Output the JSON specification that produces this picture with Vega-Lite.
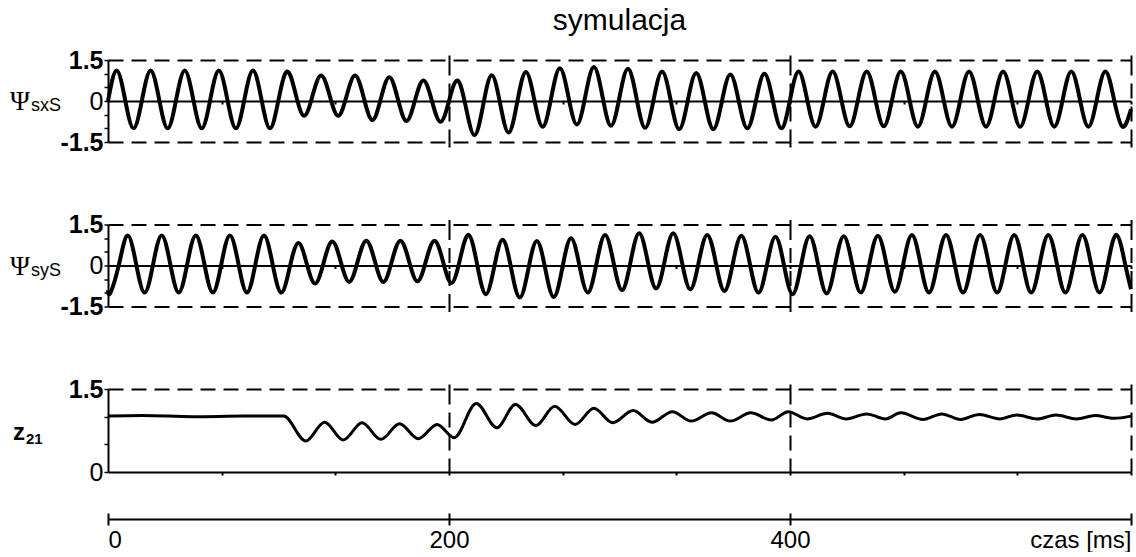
{
"$schema": "https://vega.github.io/schema/vega-lite/v6.json",
"background": "white",
"padding": {"left": 10, "top": 6, "right": 0, "bottom": 0},
"config": {"view": {"stroke": null}, "font": "Liberation Sans", "axis": {"labelFont": "Liberation Sans", "labelColor": "black", "domainColor": "black", "tickColor": "black", "gridColor": "black", "labelOverlap": false}},
"datasets": {
"sx": [
{"t":0,"v":0.0},{"t":5,"v":1.12},{"t":10,"v":0.06},{"t":15,"v":-1.0},{"t":20,"v":0.06},{"t":25,"v":1.12},{"t":30,"v":0.06},{"t":35,"v":-1.0},{"t":40,"v":0.06},{"t":45,"v":1.12},{"t":50,"v":0.06},{"t":55,"v":-1.0},{"t":60,"v":0.06},{"t":65,"v":1.12},{"t":70,"v":0.06},{"t":75,"v":-1.0},{"t":80,"v":0.06},{"t":85,"v":1.12},{"t":90,"v":0.06},{"t":95,"v":-1.0},
{"t":100,"v":0.04},{"t":105,"v":1.08},{"t":110,"v":0.27},{"t":115,"v":-0.54},{"t":120,"v":0.2},{"t":125,"v":0.93},{"t":130,"v":0.2},{"t":135,"v":-0.54},{"t":140,"v":0.2},{"t":145,"v":0.93},{"t":150,"v":0.12},{"t":155,"v":-0.7},{"t":160,"v":0.08},{"t":165,"v":0.87},{"t":170,"v":0.07},{"t":175,"v":-0.73},{"t":180,"v":0.01},{"t":185,"v":0.75},{"t":190,"v":0.0},{"t":195,"v":-0.76},
{"t":200,"v":0.0},{"t":205,"v":0.75},{"t":210,"v":-0.25},{"t":215,"v":-1.25},{"t":220,"v":-0.16},{"t":225,"v":0.94},{"t":230,"v":-0.1},{"t":235,"v":-1.15},{"t":240,"v":-0.05},{"t":245,"v":1.06},{"t":250,"v":0.06},{"t":255,"v":-0.94},{"t":260,"v":0.13},{"t":265,"v":1.2},{"t":270,"v":0.17},{"t":275,"v":-0.86},{"t":280,"v":0.19},{"t":285,"v":1.24},{"t":290,"v":0.17},{"t":295,"v":-0.91},
{"t":300,"v":0.14},{"t":305,"v":1.18},{"t":310,"v":0.1},{"t":315,"v":-0.98},{"t":320,"v":0.05},{"t":325,"v":1.08},{"t":330,"v":0.03},{"t":335,"v":-1.03},{"t":340,"v":0.0},{"t":345,"v":1.02},{"t":350,"v":0.0},{"t":355,"v":-1.03},{"t":360,"v":-0.03},{"t":365,"v":0.97},{"t":370,"v":-0.02},{"t":375,"v":-1.0},{"t":380,"v":0.0},{"t":385,"v":1.0},{"t":390,"v":0.0},{"t":395,"v":-1.0},
{"t":400,"v":0.04},{"t":405,"v":1.08},{"t":410,"v":0.07},{"t":415,"v":-0.94},{"t":420,"v":0.07},{"t":425,"v":1.08},{"t":430,"v":0.08},{"t":435,"v":-0.92},{"t":440,"v":0.08},{"t":445,"v":1.08},{"t":450,"v":0.08},{"t":455,"v":-0.92},{"t":460,"v":0.08},{"t":465,"v":1.08},{"t":470,"v":0.07},{"t":475,"v":-0.94},{"t":480,"v":0.07},{"t":485,"v":1.08},{"t":490,"v":0.07},{"t":495,"v":-0.94},
{"t":500,"v":0.07},{"t":505,"v":1.08},{"t":510,"v":0.07},{"t":515,"v":-0.94},{"t":520,"v":0.07},{"t":525,"v":1.08},{"t":530,"v":0.07},{"t":535,"v":-0.94},{"t":540,"v":0.07},{"t":545,"v":1.08},{"t":550,"v":0.07},{"t":555,"v":-0.94},{"t":560,"v":0.07},{"t":565,"v":1.08},{"t":570,"v":0.07},{"t":575,"v":-0.94},{"t":580,"v":0.07},{"t":585,"v":1.08},{"t":590,"v":0.07},{"t":595,"v":-0.94},{"t":600,"v":-0.3}
],
"sy": [
{"t":0,"v":-0.9},{"t":1.5,"v":-0.99},{"t":6.5,"v":0.06},{"t":11.5,"v":1.1},{"t":16.5,"v":0.06},{"t":21.5,"v":-0.99},{"t":26.5,"v":0.06},{"t":31.5,"v":1.1},{"t":36.5,"v":0.06},{"t":41.5,"v":-0.99},{"t":46.5,"v":0.06},{"t":51.5,"v":1.1},{"t":56.5,"v":0.06},{"t":61.5,"v":-0.99},{"t":66.5,"v":0.06},{"t":71.5,"v":1.1},{"t":76.5,"v":0.06},{"t":81.5,"v":-0.99},{"t":86.5,"v":0.06},{"t":91.5,"v":1.1},{"t":96.5,"v":0.06},
{"t":101.5,"v":-0.99},{"t":106.5,"v":-0.09},{"t":111.5,"v":0.82},{"t":116.5,"v":0.08},{"t":121.5,"v":-0.66},{"t":126.5,"v":0.11},{"t":131.5,"v":0.88},{"t":136.5,"v":0.14},{"t":141.5,"v":-0.6},{"t":146.5,"v":0.16},{"t":151.5,"v":0.91},{"t":156.5,"v":0.16},{"t":161.5,"v":-0.6},{"t":166.5,"v":0.16},{"t":171.5,"v":0.91},{"t":176.5,"v":0.17},{"t":181.5,"v":-0.58},{"t":186.5,"v":0.17},{"t":191.5,"v":0.91},{"t":196.5,"v":0.14},
{"t":201.5,"v":-0.64},{"t":206.5,"v":0.24},{"t":211.5,"v":1.12},{"t":216.5,"v":0.04},{"t":221.5,"v":-1.05},{"t":226.5,"v":-0.06},{"t":231.5,"v":0.94},{"t":236.5,"v":-0.12},{"t":241.5,"v":-1.17},{"t":246.5,"v":-0.14},{"t":251.5,"v":0.9},{"t":256.5,"v":-0.13},{"t":261.5,"v":-1.15},{"t":266.5,"v":-0.08},{"t":271.5,"v":1.0},{"t":276.5,"v":0.0},{"t":281.5,"v":-0.99},{"t":286.5,"v":0.07},{"t":291.5,"v":1.12},{"t":296.5,"v":0.11},
{"t":301.5,"v":-0.9},{"t":306.5,"v":0.14},{"t":311.5,"v":1.18},{"t":316.5,"v":0.17},{"t":321.5,"v":-0.84},{"t":326.5,"v":0.17},{"t":331.5,"v":1.18},{"t":336.5,"v":0.16},{"t":341.5,"v":-0.87},{"t":346.5,"v":0.13},{"t":351.5,"v":1.12},{"t":356.5,"v":0.1},{"t":361.5,"v":-0.93},{"t":366.5,"v":0.08},{"t":371.5,"v":1.09},{"t":376.5,"v":0.05},{"t":381.5,"v":-0.99},{"t":386.5,"v":0.03},{"t":391.5,"v":1.05},{"t":396.5,"v":0.0},
{"t":401.5,"v":-1.05},{"t":406.5,"v":0.01},{"t":411.5,"v":1.07},{"t":416.5,"v":0.03},{"t":421.5,"v":-1.02},{"t":426.5,"v":0.03},{"t":431.5,"v":1.07},{"t":436.5,"v":0.04},{"t":441.5,"v":-0.99},{"t":446.5,"v":0.05},{"t":451.5,"v":1.09},{"t":456.5,"v":0.07},{"t":461.5,"v":-0.96},{"t":466.5,"v":0.08},{"t":471.5,"v":1.12},{"t":476.5,"v":0.07},{"t":481.5,"v":-0.99},{"t":486.5,"v":0.07},{"t":491.5,"v":1.12},{"t":496.5,"v":0.07},
{"t":501.5,"v":-0.99},{"t":506.5,"v":0.07},{"t":511.5,"v":1.12},{"t":516.5,"v":0.07},{"t":521.5,"v":-0.99},{"t":526.5,"v":0.07},{"t":531.5,"v":1.12},{"t":536.5,"v":0.07},{"t":541.5,"v":-0.99},{"t":546.5,"v":0.07},{"t":551.5,"v":1.12},{"t":556.5,"v":0.07},{"t":561.5,"v":-0.99},{"t":566.5,"v":0.07},{"t":571.5,"v":1.12},{"t":576.5,"v":0.07},{"t":581.5,"v":-0.99},{"t":586.5,"v":0.07},{"t":591.5,"v":1.12},{"t":596.5,"v":0.07},{"t":600,"v":-0.87}
],
"z": [
{"t":0,"v":1.01},{"t":20,"v":1.02},{"t":50,"v":1.0},{"t":80,"v":1.01},{"t":103,"v":1.01},{"t":116,"v":0.56},{"t":127,"v":0.9},{"t":138,"v":0.58},{"t":149,"v":0.89},{"t":160,"v":0.59},{"t":171,"v":0.87},{"t":182,"v":0.6},{"t":193,"v":0.86},{"t":203,"v":0.62},{"t":216,"v":1.24},{"t":228,"v":0.8},{"t":239,"v":1.22},{"t":251,"v":0.84},{"t":262,"v":1.19},{"t":274,"v":0.86},{"t":285,"v":1.15},{"t":296,"v":0.89},{"t":308,"v":1.11},{"t":319,"v":0.9},{"t":331,"v":1.09},{"t":342,"v":0.92},{"t":354,"v":1.07},{"t":365,"v":0.92},{"t":377,"v":1.07},{"t":389,"v":0.94},{"t":399,"v":1.09},{"t":410,"v":0.96},{"t":422,"v":1.06},{"t":433,"v":0.96},{"t":445,"v":1.05},{"t":456,"v":0.96},{"t":465,"v":1.07},{"t":478,"v":0.95},{"t":489,"v":1.05},{"t":500,"v":0.95},{"t":511,"v":1.04},{"t":523,"v":0.96},{"t":533,"v":1.03},{"t":545,"v":0.96},{"t":556,"v":1.03},{"t":568,"v":0.96},{"t":579,"v":1.02},{"t":590,"v":0.97},{"t":600,"v":1.01}
]
},
"spacing": 82.5,
"bounds": "flush",
"vconcat": [
{
"title": {"text": "symulacja", "fontSize": 30, "fontWeight": "normal", "font": "Liberation Sans", "color": "black", "frame": "group", "anchor": "middle", "offset": 12},
"width": 1023, "height": 82,
"resolve": {"axis": {"x": "independent", "y": "independent"}},
"layer": [
{"data": {"name": "sx"}, "mark": {"type": "line", "interpolate": "natural", "color": "black", "strokeWidth": 4},
 "encoding": {
  "x": {"field": "t", "type": "quantitative", "scale": {"domain": [0, 600], "nice": false, "zero": false},
   "axis": {"orient": "bottom", "offset": -41, "values": [66.667, 133.333, 200, 266.667, 333.333, 400, 466.667, 533.333, 600], "domain": true, "domainWidth": 2, "ticks": true, "tickWidth": 2, "tickSize": 3, "labels": false, "title": null, "grid": true, "gridWidth": 2, "gridDash": [15, 8], "gridOpacity": {"condition": {"test": "abs(datum.value - 200*round(datum.value/200)) < 0.5", "value": 1}, "value": 0}}},
  "y": {"field": "v", "type": "quantitative", "scale": {"domain": [-1.5, 1.5], "nice": false},
   "axis": {"orient": "left", "values": [-1.5, 0, 1.5], "domain": true, "domainWidth": 2, "ticks": true, "tickWidth": 1.5, "tickSize": 4, "labelExpr": "datum.value < -1 ? '-1.5' : datum.value > 1 ? '1.5' : '0'", "labelFontSize": 25, "labelPadding": 1, "labelFontWeight": {"condition": {"test": "datum.value != 0", "value": "bold"}, "value": "normal"}, "grid": true, "gridWidth": 2, "gridDash": [15, 8], "gridOpacity": {"condition": {"test": "abs(datum.value) > 1", "value": 1}, "value": 0}, "title": null}}
 }},
{"data": {"name": "sx"}, "mark": {"type": "line", "opacity": 0},
 "encoding": {"x": {"field": "t", "type": "quantitative", "axis": {"orient": "top", "values": [200, 400, 600], "domain": false, "labels": false, "grid": false, "ticks": true, "tickSize": 5, "tickWidth": 2, "title": null}},
  "y": {"field": "v", "type": "quantitative", "axis": {"orient": "left", "values": [-1, -0.5, 0.5, 1], "domain": false, "labels": false, "grid": false, "ticks": true, "tickSize": 4, "tickWidth": 1.5, "title": null}}}},
{"data": {"name": "sx"}, "mark": {"type": "line", "opacity": 0},
 "encoding": {"x": {"field": "t", "type": "quantitative", "axis": {"orient": "bottom", "values": [200, 400, 600], "domain": false, "labels": false, "grid": false, "ticks": true, "tickSize": 5, "tickWidth": 2, "title": null}}, "y": {"field": "v", "type": "quantitative", "axis": null}}},
{"data": {"values": [{"s": "Ψ"}]}, "mark": {"type": "text", "font": "Liberation Serif", "fontSize": 27, "align": "right", "baseline": "middle", "dx": -78, "dy": 1, "color": "black"},
 "encoding": {"x": {"datum": 0, "axis": null}, "y": {"datum": 0, "axis": null}, "text": {"field": "s"}}},
{"data": {"values": [{"s": "sxS"}]}, "mark": {"type": "text", "font": "Liberation Sans", "fontSize": 18, "align": "left", "baseline": "middle", "dx": -77, "dy": 5, "color": "black"},
 "encoding": {"x": {"datum": 0, "axis": null}, "y": {"datum": 0, "axis": null}, "text": {"field": "s"}}}
]
},
{
"width": 1023, "height": 82,
"resolve": {"axis": {"x": "independent", "y": "independent"}},
"layer": [
{"data": {"name": "sy"}, "mark": {"type": "line", "interpolate": "natural", "color": "black", "strokeWidth": 4},
 "encoding": {
  "x": {"field": "t", "type": "quantitative", "scale": {"domain": [0, 600], "nice": false, "zero": false},
   "axis": {"orient": "bottom", "offset": -41, "values": [66.667, 133.333, 200, 266.667, 333.333, 400, 466.667, 533.333, 600], "domain": true, "domainWidth": 2, "ticks": true, "tickWidth": 2, "tickSize": 3, "labels": false, "title": null, "grid": true, "gridWidth": 2, "gridDash": [15, 8], "gridOpacity": {"condition": {"test": "abs(datum.value - 200*round(datum.value/200)) < 0.5", "value": 1}, "value": 0}}},
  "y": {"field": "v", "type": "quantitative", "scale": {"domain": [-1.5, 1.5], "nice": false},
   "axis": {"orient": "left", "values": [-1.5, 0, 1.5], "domain": true, "domainWidth": 2, "ticks": true, "tickWidth": 1.5, "tickSize": 4, "labelExpr": "datum.value < -1 ? '-1.5' : datum.value > 1 ? '1.5' : '0'", "labelFontSize": 25, "labelPadding": 1, "labelFontWeight": {"condition": {"test": "datum.value != 0", "value": "bold"}, "value": "normal"}, "grid": true, "gridWidth": 2, "gridDash": [15, 8], "gridOpacity": {"condition": {"test": "abs(datum.value) > 1", "value": 1}, "value": 0}, "title": null}}
 }},
{"data": {"name": "sy"}, "mark": {"type": "line", "opacity": 0},
 "encoding": {"x": {"field": "t", "type": "quantitative", "axis": {"orient": "top", "values": [200, 400, 600], "domain": false, "labels": false, "grid": false, "ticks": true, "tickSize": 5, "tickWidth": 2, "title": null}},
  "y": {"field": "v", "type": "quantitative", "axis": {"orient": "left", "values": [-1, -0.5, 0.5, 1], "domain": false, "labels": false, "grid": false, "ticks": true, "tickSize": 4, "tickWidth": 1.5, "title": null}}}},
{"data": {"name": "sy"}, "mark": {"type": "line", "opacity": 0},
 "encoding": {"x": {"field": "t", "type": "quantitative", "axis": {"orient": "bottom", "values": [200, 400, 600], "domain": false, "labels": false, "grid": false, "ticks": true, "tickSize": 5, "tickWidth": 2, "title": null}}, "y": {"field": "v", "type": "quantitative", "axis": null}}},
{"data": {"values": [{"s": "Ψ"}]}, "mark": {"type": "text", "font": "Liberation Serif", "fontSize": 27, "align": "right", "baseline": "middle", "dx": -78, "dy": 1, "color": "black"},
 "encoding": {"x": {"datum": 0, "axis": null}, "y": {"datum": 0, "axis": null}, "text": {"field": "s"}}},
{"data": {"values": [{"s": "syS"}]}, "mark": {"type": "text", "font": "Liberation Sans", "fontSize": 18, "align": "left", "baseline": "middle", "dx": -77, "dy": 5, "color": "black"},
 "encoding": {"x": {"datum": 0, "axis": null}, "y": {"datum": 0, "axis": null}, "text": {"field": "s"}}}
]
},
{
"width": 1023, "height": 83,
"resolve": {"axis": {"x": "independent", "y": "independent"}},
"layer": [
{"data": {"name": "z"}, "mark": {"type": "line", "interpolate": "monotone", "color": "black", "strokeWidth": 3},
 "encoding": {
  "x": {"field": "t", "type": "quantitative", "scale": {"domain": [0, 600], "nice": false, "zero": false},
   "axis": {"orient": "bottom", "offset": 0, "values": [66.667, 133.333, 200, 266.667, 333.333, 400, 466.667, 533.333, 600], "domain": true, "domainWidth": 2, "ticks": true, "tickWidth": 2, "tickSize": 3, "labels": false, "title": null, "grid": true, "gridWidth": 2, "gridDash": [15, 8], "gridOpacity": {"condition": {"test": "abs(datum.value - 200*round(datum.value/200)) < 0.5", "value": 1}, "value": 0}}},
  "y": {"field": "v", "type": "quantitative", "scale": {"domain": [0, 1.5], "nice": false, "zero": false},
   "axis": {"orient": "left", "values": [0, 1.5], "domain": true, "domainWidth": 2, "ticks": true, "tickWidth": 1.5, "tickSize": 4, "labelExpr": "datum.value > 1 ? '1.5' : '0'", "labelFontSize": 25, "labelPadding": 1, "labelFontWeight": {"condition": {"test": "datum.value != 0", "value": "bold"}, "value": "normal"}, "grid": true, "gridWidth": 2, "gridDash": [15, 8], "gridOpacity": {"condition": {"test": "datum.value > 1", "value": 1}, "value": 0}, "title": null}}
 }},
{"data": {"name": "z"}, "mark": {"type": "line", "opacity": 0},
 "encoding": {"x": {"field": "t", "type": "quantitative", "axis": {"orient": "top", "values": [200, 400, 600], "domain": false, "labels": false, "grid": false, "ticks": true, "tickSize": 5, "tickWidth": 2, "title": null}},
  "y": {"field": "v", "type": "quantitative", "axis": {"orient": "left", "values": [0.5, 1], "domain": false, "labels": false, "grid": false, "ticks": true, "tickSize": 4, "tickWidth": 1.5, "title": null}}}},
{"data": {"name": "z"}, "mark": {"type": "line", "opacity": 0},
 "encoding": {"x": {"field": "t", "type": "quantitative", "axis": {"orient": "bottom", "offset": 41, "values": [0, 200, 400, 600], "domain": false, "labels": false, "grid": false, "ticks": true, "tickSize": 6, "tickWidth": 2, "title": null}}, "y": {"field": "v", "type": "quantitative", "axis": null}}},
{"data": {"name": "z"}, "mark": {"type": "line", "opacity": 0},
 "encoding": {"x": {"field": "t", "type": "quantitative", "axis": {"orient": "bottom", "offset": 47, "values": [0, 200, 400, 600], "domain": true, "domainWidth": 2, "labels": true, "labelFontSize": 24, "labelPadding": 3, "labelFlush": true, "labelExpr": "datum.value == 600 ? 'czas [ms]\u00a0\u00a0' : datum.label", "grid": false, "ticks": true, "tickSize": 6, "tickWidth": 2, "title": null}}, "y": {"field": "v", "type": "quantitative", "axis": null}}},
{"data": {"values": [{"s": "z"}]}, "mark": {"type": "text", "font": "Liberation Sans", "fontWeight": "bold", "fontSize": 24, "align": "right", "baseline": "middle", "dx": -83, "dy": 0, "color": "black"},
 "encoding": {"x": {"datum": 0, "axis": null}, "y": {"datum": 0.71, "axis": null}, "text": {"field": "s"}}},
{"data": {"values": [{"s": "21"}]}, "mark": {"type": "text", "font": "Liberation Sans", "fontWeight": "bold", "fontSize": 15, "align": "left", "baseline": "middle", "dx": -82, "dy": 6, "color": "black"},
 "encoding": {"x": {"datum": 0, "axis": null}, "y": {"datum": 0.71, "axis": null}, "text": {"field": "s"}}}
]
}
]
}
